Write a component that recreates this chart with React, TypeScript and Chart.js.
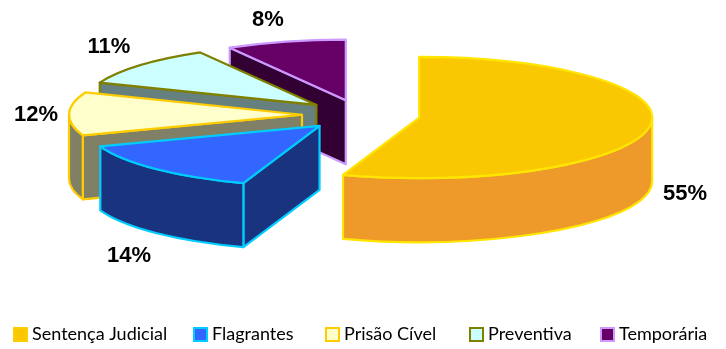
import React, { useEffect, useRef } from "react";
import { Chart, registerables } from "chart.js";

Chart.register(...registerables);

const categories = ["Sentença Judicial", "Flagrantes", "Prisão Cível", "Preventiva", "Temporária"];
const values = [55.3, 14.2, 11.5, 10.7, 8.3];
const percentLabels = ["55%", "14%", "12%", "11%", "8%"];
const topColors = ["#F9C802", "#3366FF", "#FFFFCC", "#CCFFFF", "#660066"];
const sideColors = ["#EE9A2B", "#1A337F", "#808066", "#668080", "#330033"];
const edgeColors = ["#FFE500", "#00CCFF", "#FFCC00", "#808000", "#CC99FF"];
const legendBorders = ["#FFCC00", "#00CCFF", "#FFCC00", "#808000", "#CC99FF"];
const paintOrder = [4, 3, 2, 1, 0];

const SQUASH = 0.26;
const DEPTH = 64;
const EXPLODE = 59;
const BORDER = 2.2;
const labelSpots = [
  [685, 194],
  [129, 256],
  [36, 115],
  [109, 47],
  [268, 20],
];
const legendStarts = [13, 193, 325, 469, 600];
const TWO_PI = Math.PI * 2;

const pie3d = {
  id: "pie3d",
  beforeDatasetDraw(chart: any) {
    const ctx = chart.ctx;
    const arcs = chart.getDatasetMeta(0).data;
    ctx.save();
    ctx.lineJoin = "round";
    ctx.lineWidth = BORDER;
    for (const i of paintOrder) {
      const arc = arcs[i];
      const R = arc.outerRadius;
      const mid = (arc.startAngle + arc.endAngle) / 2;
      const dx = Math.cos(mid) * EXPLODE;
      const dy = Math.sin(mid) * EXPLODE * SQUASH;
      const cx = arc.x + dx;
      const cy = arc.y + dy;
      const ry = R * SQUASH;
      const a0 = arc.startAngle;
      const a1 = arc.endAngle;
      const px = (t: number) => cx + R * Math.cos(t);
      const py = (t: number) => cy + ry * Math.sin(t);

      ctx.fillStyle = sideColors[i];
      ctx.strokeStyle = edgeColors[i];

      // radial face that looks towards the viewer
      const faces: number[] = [];
      if (Math.cos(a0) < -1e-6) faces.push(a0);
      if (Math.cos(a1) > 1e-6) faces.push(a1);
      for (const t of faces) {
        ctx.beginPath();
        ctx.moveTo(cx, cy);
        ctx.lineTo(px(t), py(t));
        ctx.lineTo(px(t), py(t) + DEPTH);
        ctx.lineTo(cx, cy + DEPTH);
        ctx.closePath();
        ctx.fill();
        ctx.stroke();
      }

      // outer curtain: the part of the rim on the front half of the ellipse
      for (const k of [-1, 0, 1]) {
        const from = Math.max(a0, k * TWO_PI);
        const to = Math.min(a1, k * TWO_PI + Math.PI);
        if (to <= from) continue;
        ctx.beginPath();
        ctx.ellipse(cx, cy, R, ry, 0, from, to);
        ctx.lineTo(px(to), py(to) + DEPTH);
        ctx.ellipse(cx, cy + DEPTH, R, ry, 0, to, from, true);
        ctx.closePath();
        ctx.fill();
        ctx.stroke();
      }

      // top face: drawn by the library's arc element, moved out and squashed to an ellipse
      ctx.save();
      ctx.translate(dx, arc.y + dy);
      ctx.scale(1, SQUASH);
      ctx.translate(0, -arc.y);
      arc.draw(ctx, chart.chartArea);
      ctx.restore();

      ctx.beginPath();
      ctx.moveTo(cx, cy);
      ctx.ellipse(cx, cy, R, ry, 0, a0, a1);
      ctx.closePath();
      ctx.stroke();
    }
    ctx.restore();
    return false;
  },
  afterDraw(chart: any) {
    const ctx = chart.ctx;
    ctx.save();
    ctx.textBaseline = "middle";
    ctx.textAlign = "center";
    ctx.fillStyle = "#000000";
    ctx.font = "bold 22px 'Liberation Sans'";
    percentLabels.forEach((text, i) => {
      ctx.fillText(text, labelSpots[i][0], labelSpots[i][1]);
    });
    ctx.textAlign = "left";
    ctx.font = "18px Lato";
    categories.forEach((name, i) => {
      const x = legendStarts[i];
      ctx.fillStyle = topColors[i];
      ctx.fillRect(x + 1, 328, 13, 13);
      ctx.strokeStyle = legendBorders[i];
      ctx.lineWidth = 2;
      ctx.strokeRect(x + 1, 328, 13, 13);
      ctx.fillStyle = "#000000";
      ctx.fillText(name, x + 19, 334);
    });
    ctx.restore();
  },
};

export default function App() {
  const ref = useRef<HTMLCanvasElement>(null);
  useEffect(() => {
    const chart = new Chart(ref.current as HTMLCanvasElement, {
      type: "pie",
      data: {
        labels: categories,
        datasets: [
          {
            data: values,
            backgroundColor: topColors,
            borderColor: edgeColors,
            borderWidth: 0,
          },
        ],
      },
      options: {
        responsive: false,
        animation: false,
        devicePixelRatio: 1,
        radius: 233,
        layout: { padding: { right: 4, bottom: 119 } },
        plugins: { legend: { display: false }, tooltip: { enabled: false } },
      } as any,
      plugins: [pie3d],
    });
    return () => chart.destroy();
  }, []);
  return (
    <div style={{ position: "absolute", left: 0, top: 0, width: 726, height: 349 }}>
      <canvas ref={ref} width={726} height={349} style={{ display: "block" }} />
    </div>
  );
}
